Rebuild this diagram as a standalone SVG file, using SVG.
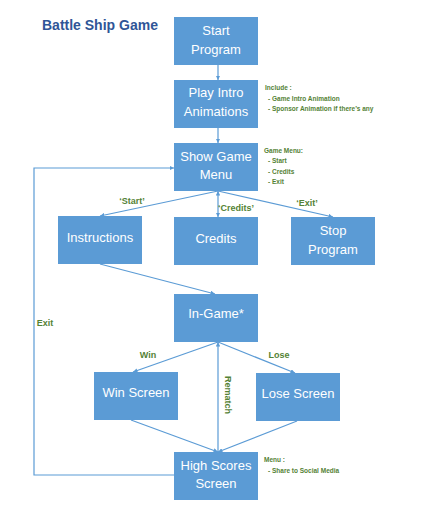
<svg xmlns="http://www.w3.org/2000/svg" width="427" height="524" viewBox="0 0 427 524">
<style>
.box{fill:#5B9BD5}
.nt{font-family:"Liberation Sans",Arial,sans-serif;font-size:13px;fill:#fff;text-anchor:middle}
.ln{stroke:#5B9BD5;stroke-width:1.2;fill:none}
.el{font-family:"Liberation Sans",Arial,sans-serif;font-size:9px;font-weight:bold;fill:#548235}
.an{font-family:"Liberation Sans",Arial,sans-serif;font-size:6.5px;font-weight:bold;fill:#548235}
.title{font-family:"Liberation Sans",Arial,sans-serif;font-size:14px;font-weight:bold;fill:#2F5597}
</style>
<defs>
<marker id="ah" viewBox="0 0 10 10" refX="10" refY="5" markerWidth="4.5" markerHeight="4.5" orient="auto-start-reverse" markerUnits="userSpaceOnUse">
<path d="M0,0 L10,5 L0,10 z" fill="#5B9BD5"/>
</marker>
</defs>
<rect width="427" height="524" fill="#fff"/>
<text class="title" x="42" y="30">Battle Ship Game</text>

<g id="connectors">
<line class="ln" x1="218" y1="65" x2="218" y2="80" marker-end="url(#ah)"/>
<line class="ln" x1="218" y1="128" x2="218" y2="143" marker-end="url(#ah)"/>
<line class="ln" x1="218" y1="191" x2="100" y2="216" marker-end="url(#ah)"/>
<line class="ln" x1="218" y1="191" x2="218" y2="217" marker-start="url(#ah)" marker-end="url(#ah)"/>
<line class="ln" x1="218" y1="191" x2="333" y2="217" marker-end="url(#ah)"/>
<line class="ln" x1="100" y1="264" x2="215" y2="294" marker-end="url(#ah)"/>
<line class="ln" x1="218" y1="342" x2="133" y2="372" marker-end="url(#ah)"/>
<line class="ln" x1="218" y1="342" x2="295" y2="373" marker-end="url(#ah)"/>
<line class="ln" x1="218" y1="452" x2="218" y2="342" marker-end="url(#ah)"/>
<line class="ln" x1="131" y1="420" x2="218" y2="452" marker-end="url(#ah)"/>
<line class="ln" x1="297" y1="421" x2="218" y2="452" marker-end="url(#ah)"/>
<polyline class="ln" points="174,475 34,475 34,168 174,168" marker-end="url(#ah)"/>
<text class="el" x="132" y="204" text-anchor="middle">‘Start’</text>
<text class="el" x="236" y="211" text-anchor="middle">‘Credits’</text>
<text class="el" x="307" y="206" text-anchor="middle">‘Exit’</text>
<text class="el" x="45" y="326" text-anchor="middle">Exit</text>
<text class="el" x="148" y="358" text-anchor="middle">Win</text>
<text class="el" x="279" y="358" text-anchor="middle">Lose</text>
<text class="el" x="0" y="0" text-anchor="middle" font-size="9.5" transform="translate(224.5,395) rotate(90)">Rematch</text>
</g>

<g id="start">
<rect class="box" x="174" y="17" width="84" height="48"/>
<text class="nt" x="216" y="34.5">Start</text>
<text class="nt" x="216" y="53.5">Program</text>
</g>
<g id="intro">
<rect class="box" x="174" y="80" width="84" height="48"/>
<text class="nt" x="216" y="96.5">Play Intro</text>
<text class="nt" x="216" y="116">Animations</text>
</g>
<g id="menu">
<rect class="box" x="174" y="143" width="84" height="48"/>
<text class="nt" x="216" y="160.5">Show Game</text>
<text class="nt" x="216" y="179">Menu</text>
</g>
<g id="instructions">
<rect class="box" x="58" y="216" width="84" height="48"/>
<text class="nt" x="100" y="241.5">Instructions</text>
</g>
<g id="credits">
<rect class="box" x="174" y="217" width="84" height="48"/>
<text class="nt" x="216" y="242.5">Credits</text>
</g>
<g id="stop">
<rect class="box" x="291" y="217" width="84" height="48"/>
<text class="nt" x="333" y="234.5">Stop</text>
<text class="nt" x="333" y="253.5">Program</text>
</g>
<g id="ingame">
<rect class="box" x="174" y="294" width="84" height="48"/>
<text class="nt" x="216" y="317.5">In-Game*</text>
</g>
<g id="win">
<rect class="box" x="94" y="372" width="84" height="48"/>
<text class="nt" x="136" y="396.5">Win Screen</text>
</g>
<g id="lose">
<rect class="box" x="256" y="373" width="84" height="48"/>
<text class="nt" x="298" y="398">Lose Screen</text>
</g>
<g id="highscores">
<rect class="box" x="174" y="452" width="84" height="48"/>
<text class="nt" x="216" y="469.5">High Scores</text>
<text class="nt" x="216" y="488">Screen</text>
</g>

<g id="notes">
<text class="an" x="265" y="90">Include :</text>
<text class="an" x="268" y="101">- Game Intro Animation</text>
<text class="an" x="268" y="111">- Sponsor Animation if there’s any</text>
<text class="an" x="264" y="152.5">Game Menu:</text>
<text class="an" x="268" y="163">- Start</text>
<text class="an" x="268" y="174">- Credits</text>
<text class="an" x="268" y="184">- Exit</text>
<text class="an" x="264" y="462">Menu :</text>
<text class="an" x="268" y="473">- Share to Social Media</text>
</g>
</svg>
